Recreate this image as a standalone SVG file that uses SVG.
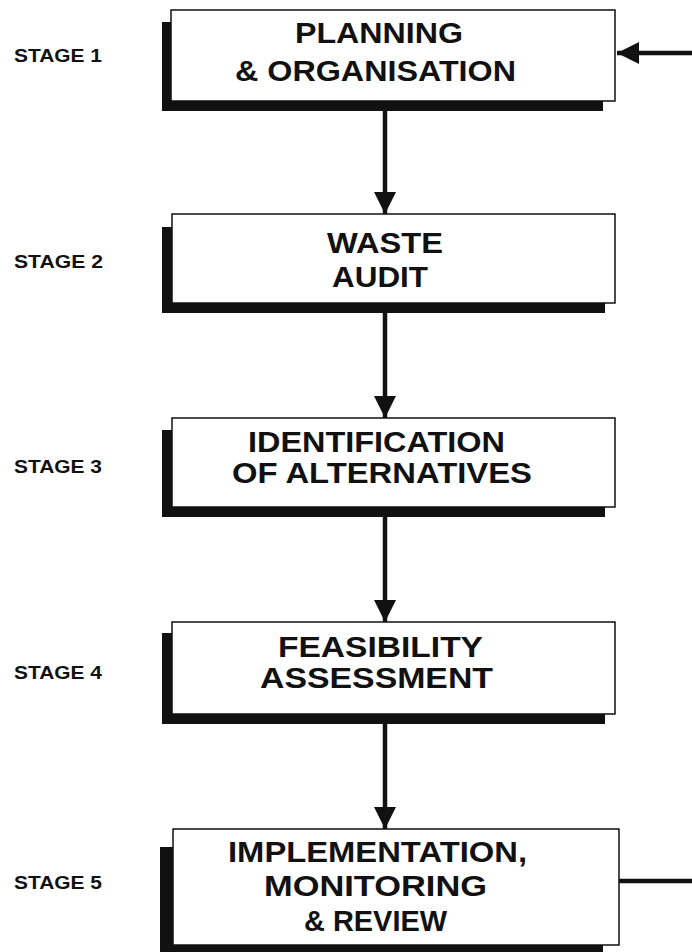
<svg xmlns="http://www.w3.org/2000/svg" width="692" height="952" viewBox="0 0 692 952">
  <style>
    .shadow { fill: #111; }
    .box { fill: #fff; stroke: #111; stroke-width: 1.5; }
    .label { font-family: "Liberation Sans", Arial, sans-serif; font-weight: bold; fill: #111; }
    .title { font-size: 29px; }
    .stage { font-size: 19px; }
    .flow { stroke: #111; stroke-width: 4.5; fill: none; }
  </style>
  <defs>
    <marker id="head" markerUnits="userSpaceOnUse" markerWidth="24" markerHeight="22" refX="22" refY="11" orient="auto">
      <path d="M0,0 L22,11 L0,22 Z" fill="#111"/>
    </marker>
  </defs>
  <rect width="692" height="952" fill="#fff"/>

  <!-- stage labels -->
  <g id="stage-labels" class="label stage">
    <text x="14" y="62" textLength="88" lengthAdjust="spacingAndGlyphs">STAGE 1</text>
    <text x="14" y="268" textLength="89" lengthAdjust="spacingAndGlyphs">STAGE 2</text>
    <text x="14" y="473" textLength="88" lengthAdjust="spacingAndGlyphs">STAGE 3</text>
    <text x="14" y="679" textLength="88" lengthAdjust="spacingAndGlyphs">STAGE 4</text>
    <text x="14" y="889" textLength="88" lengthAdjust="spacingAndGlyphs">STAGE 5</text>
  </g>

  <!-- connectors -->
  <g id="connectors">
    <line class="flow" x1="385" y1="111" x2="385" y2="214" marker-end="url(#head)"/>
    <line class="flow" x1="385" y1="313" x2="385" y2="418" marker-end="url(#head)"/>
    <line class="flow" x1="385" y1="517" x2="385" y2="622" marker-end="url(#head)"/>
    <line class="flow" x1="385" y1="724" x2="385" y2="829" marker-end="url(#head)"/>
    <!-- feedback loop from stage 5 back to stage 1 -->
    <line class="flow" x1="619" y1="881" x2="692" y2="881" stroke-width="3.5"/>
    <line class="flow" x1="692" y1="53" x2="617" y2="53" stroke-width="4" marker-end="url(#head)"/>
  </g>

  <g id="stage1">
    <rect class="shadow" x="162" y="22" width="441" height="89"/>
    <rect class="box" x="171" y="10" width="444" height="91"/>
    <text class="label title" x="295" y="43" textLength="168" lengthAdjust="spacingAndGlyphs">PLANNING</text>
    <text class="label title" x="235" y="81" textLength="281" lengthAdjust="spacingAndGlyphs">&amp; ORGANISATION</text>
  </g>

  <g id="stage2">
    <rect class="shadow" x="162" y="227" width="443" height="86"/>
    <rect class="box" x="172" y="214" width="443" height="89"/>
    <text class="label title" x="327" y="253" textLength="116" lengthAdjust="spacingAndGlyphs">WASTE</text>
    <text class="label title" x="332" y="287" textLength="96" lengthAdjust="spacingAndGlyphs">AUDIT</text>
  </g>

  <g id="stage3">
    <rect class="shadow" x="162" y="430" width="443" height="87"/>
    <rect class="box" x="172" y="418" width="443" height="89"/>
    <text class="label title" x="248" y="452" textLength="257" lengthAdjust="spacingAndGlyphs">IDENTIFICATION</text>
    <text class="label title" x="232" y="483" textLength="300" lengthAdjust="spacingAndGlyphs">OF ALTERNATIVES</text>
  </g>

  <g id="stage4">
    <rect class="shadow" x="162" y="633" width="443" height="91"/>
    <rect class="box" x="172" y="622" width="443" height="92"/>
    <text class="label title" x="278" y="657" textLength="205" lengthAdjust="spacingAndGlyphs">FEASIBILITY</text>
    <text class="label title" x="260" y="688" textLength="233" lengthAdjust="spacingAndGlyphs">ASSESSMENT</text>
  </g>

  <g id="stage5">
    <rect class="shadow" x="160" y="847" width="443" height="110"/>
    <rect class="box" x="173" y="829" width="446" height="116"/>
    <text class="label title" x="228" y="862" textLength="299" lengthAdjust="spacingAndGlyphs">IMPLEMENTATION,</text>
    <text class="label title" x="264" y="896" textLength="223" lengthAdjust="spacingAndGlyphs">MONITORING</text>
    <text class="label title" x="304" y="931" textLength="143" lengthAdjust="spacingAndGlyphs">&amp; REVIEW</text>
  </g>
</svg>
